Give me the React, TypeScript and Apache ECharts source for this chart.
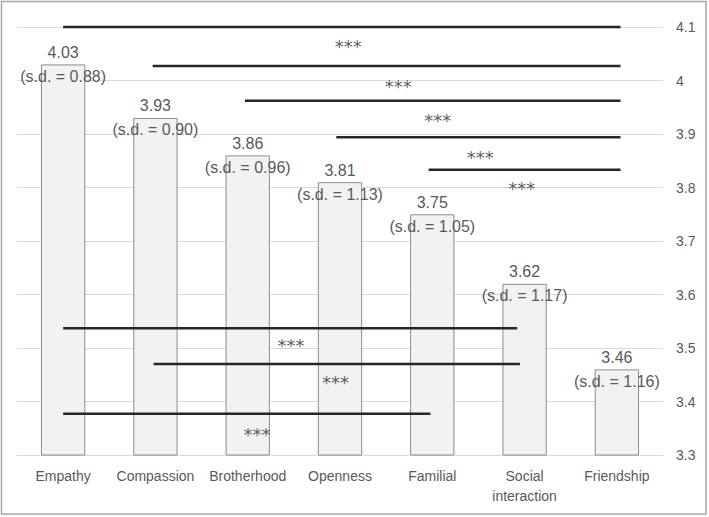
import React, { useEffect, useRef } from "react";
import * as echarts from "echarts";

const categories = ["Empathy", "Compassion", "Brotherhood", "Openness", "Familial", "Social\ninteraction", "Friendship"];
const means = [4.03, 3.93, 3.86, 3.81, 3.75, 3.62, 3.46];
const sds = [0.88, 0.9, 0.96, 1.13, 1.05, 1.17, 1.16];

// significance brackets (x in category index units, y in value units)
const sigStart = [0, 0.97, 1.97, 2.96, 3.96, 0, 0.98, 0];
const sigEnd = [6.04, 6.04, 6.04, 6.04, 6.04, 4.92, 4.95, 3.98];
const sigLevel = [4.1, 4.027, 3.962, 3.894, 3.833, 3.537, 3.47, 3.377];
const starX = [3.09, 3.63, 4.06, 4.52, 4.97, 2.47, 2.95, 2.1];
const starY = [4.07, 3.995, 3.93, 3.861, 3.803, 3.511, 3.442, 3.344];
const starText = "***";

export default function App() {
  const ref = useRef<HTMLDivElement>(null);
  useEffect(() => {
    if (!ref.current) return;
    const chart = echarts.init(ref.current, null, { renderer: "svg" });
    const font = "'Liberation Sans', Arial, sans-serif";
    const sigSeries = sigStart.map((s, i) => ({
      type: "line",
      xAxisIndex: 1,
      yAxisIndex: 0,
      data: [
        [s, sigLevel[i]],
        [sigEnd[i], sigLevel[i]],
      ],
      symbol: "none",
      clip: false,
      silent: true,
      lineStyle: { color: "#262626", width: 2.5 },
      z: 5,
    }));
    chart.setOption({
      animation: false,
      grid: { left: 17, right: 46, top: 27, bottom: 62, containLabel: false },
      xAxis: [
        {
          type: "category",
          data: categories,
          axisLine: { show: true, lineStyle: { color: "#d9d9d9", width: 1 } },
          axisTick: { show: false },
          axisLabel: {
            color: "#595959",
            fontSize: 14,
            lineHeight: 20,
            fontFamily: font,
            margin: 11,
            interval: 0,
          },
        },
        { type: "value", min: -0.5, max: 6.5, show: false },
      ],
      yAxis: {
        type: "value",
        position: "right",
        min: 3.3,
        max: 4.1,
        interval: 0.1,
        axisLine: { show: false },
        axisTick: { show: false },
        splitLine: { lineStyle: { color: "#d9d9d9", width: 1 } },
        axisLabel: {
          color: "#595959",
          fontSize: 14,
          fontFamily: font,
          margin: 13,
          formatter: (v: number) => String(Math.round(v * 10) / 10),
        },
      },
      series: [
        {
          type: "bar",
          data: means,
          barWidth: "48%",
          itemStyle: { color: "#f2f2f2", borderColor: "#8c8c8c", borderWidth: 1 },
          label: {
            show: true,
            position: "top",
            distance: 0,
            offset: [0, 24],
            color: "#595959",
            fontSize: 16,
            lineHeight: 24,
            fontFamily: font,
            formatter: (p: any) =>
              `${means[p.dataIndex].toFixed(2)}\n(s.d. = ${sds[p.dataIndex].toFixed(2)})`,
          },
          z: 2,
        },
        ...sigSeries,
        {
          type: "scatter",
          xAxisIndex: 1,
          yAxisIndex: 0,
          data: starX.map((x, i) => [x, starY[i]]),
          symbolSize: 0,
          clip: false,
          silent: true,
          label: {
            show: true,
            position: "inside",
            formatter: starText,
            color: "#333333",
            fontSize: 18,
            fontFamily: "'DejaVu Sans', sans-serif",
            offset: [0, 3],
          },
          z: 6,
        },
      ],
      graphic: [
        {
          type: "rect",
          shape: { x: 1.5, y: 1.5, width: 704.5, height: 512.5 },
          style: { fill: "none", stroke: "#a6a6a6", lineWidth: 1.5 },
          silent: true,
        },
      ],
    });
    return () => chart.dispose();
  }, []);
  return (
    <div
      ref={ref}
      style={{ position: "fixed", left: 0, top: 0, width: 709, height: 517, background: "#ffffff" }}
    />
  );
}
